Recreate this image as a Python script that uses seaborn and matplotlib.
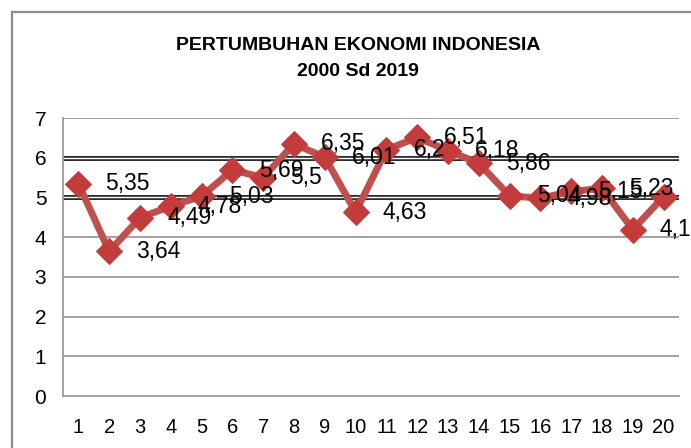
import matplotlib
matplotlib.use('Agg')
import matplotlib.pyplot as plt
import seaborn as sns
import pandas as pd
from matplotlib.patches import Rectangle

# data (index 1..20 = 2000..2019)
periods = list(range(1, 21))
growth = [5.35, 3.64, 4.49, 4.78, 5.03, 5.69, 5.5, 6.35, 6.01, 4.63,
          6.2, 6.51, 6.18, 5.86, 5.04, 4.98, 5.15, 5.23, 4.19, 5.02]
labels = ['5,35', '3,64', '4,49', '4,78', '5,03', '5,69', '5,5', '6,35', '6,01', '4,63',
          '6,2', '6,51', '6,18', '5,86', '5,04', '4,98', '5,15', '5,23', '4,19', '5,02']
yticks = [0, 1, 2, 3, 4, 5, 6, 7]

RED = '#c0504d'; MARK = '#c43b3b'; GRID = '#9a9a9a'

sns.set_style('white')
plt.rcParams['font.family'] = ['Liberation Sans', 'DejaVu Sans']
plt.rcParams['text.color'] = 'black'
plt.rcParams['xtick.color'] = 'black'
plt.rcParams['ytick.color'] = 'black'

df = pd.DataFrame({'period': periods, 'growth': growth})

fig = plt.figure(figsize=(6.91, 4.48), dpi=100)
fig.patch.set_facecolor('white')
# outer chart border (clipped at right/bottom like the screenshot)
fig.patches.append(Rectangle((12/691, -0.1), 1.2, 1 - 12/448 + 0.1, transform=fig.transFigure,
                             fill=False, edgecolor='#8c8c8c', lw=1.6))

ax = fig.add_axes([63/691, 1 - 396/448, (679 - 63)/691, (396 - 118)/448])

# gridlines
for y in [1, 2, 3, 4, 7]:
    ax.axhline(y, color=GRID, lw=1.3, zorder=1)
for y in [5, 6]:
    ax.axhline(y, color='#2a2a2a', lw=3.6, zorder=1)
    ax.axhline(y, color='white', lw=1.0, zorder=1.1)

sns.lineplot(data=df, x='period', y='growth', ax=ax, color=RED, lw=5.0,
             marker='D', markersize=13, markerfacecolor=MARK,
             markeredgecolor=MARK, zorder=3)

for x, y, t in zip(periods, growth, labels):
    ax.annotate(t, (x, y), xytext=(19.5, 0), textcoords='offset points',
                ha='left', va='center', fontsize=16.5, color='black', zorder=4,
                annotation_clip=False)

ax.set_xlim(0.5, 20.5)
ax.set_ylim(0, 7)
ax.set_xticks(periods)
ax.set_xticklabels([str(p) for p in periods])
ax.set_yticks(yticks)
ax.set_xlabel('')
ax.set_ylabel('')
ax.tick_params(axis='x', length=0, pad=16, labelsize=14.5)
ax.tick_params(axis='y', length=0, pad=12, labelsize=15)

for sp in ['top', 'right']:
    ax.spines[sp].set_visible(False)
for sp in ['left', 'bottom']:
    ax.spines[sp].set_color(GRID)
    ax.spines[sp].set_linewidth(1.3)

fig.text(358/691, 1 - 46/448, 'PERTUMBUHAN EKONOMI INDONESIA', ha='center', va='center',
         fontsize=14, fontweight='bold')
fig.text(358/691, 1 - 71/448, '2000 Sd 2019', ha='center', va='center',
         fontsize=14, fontweight='bold')

fig.savefig('out.png', dpi=100, facecolor='white')
